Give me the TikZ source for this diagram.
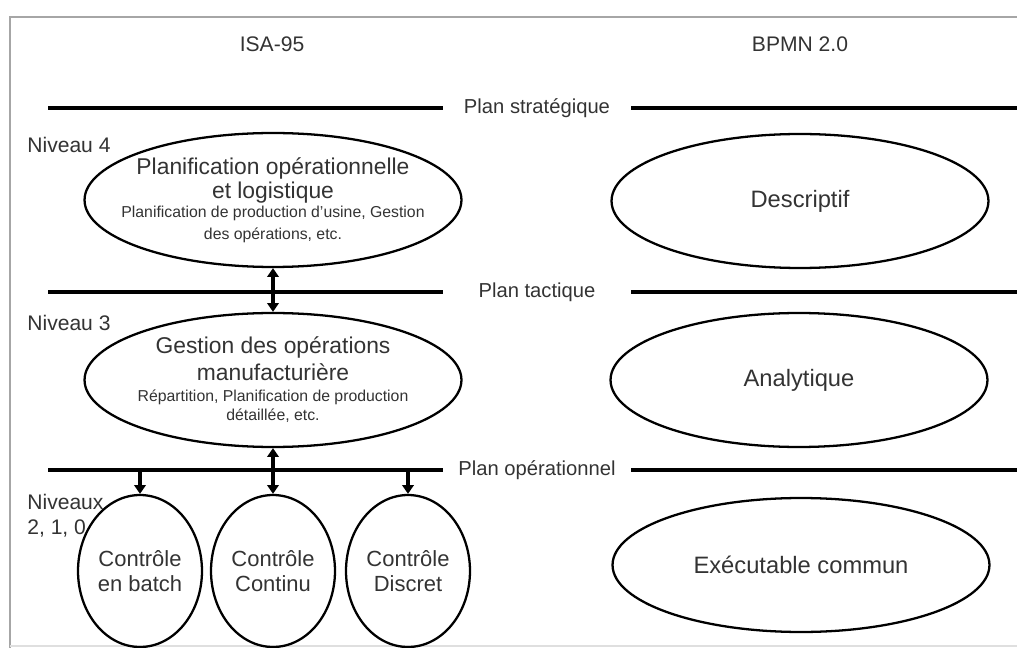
\documentclass[tikz,border=0pt]{standalone}
\usepackage{fontspec}
\setmainfont{Liberation Sans}
\usepackage{tikz}
\usetikzlibrary{
arrows.meta,
calc,
shapes,
}

\newcommand{\grand}{\fontsize{13}{13.6}\selectfont}
\newcommand{\petit}{\fontsize{9}{13.6}\selectfont}
\newcommand{\serre}{\lineskiplimit=-50pt\relax\lineskip=0pt\relax}

\begin{document}
\begin{tikzpicture}[x=0.02cm, y=-0.02cm, every node/.style={text=black!80},
		plan/.style={line width=2.2pt},
		plantxt/.style={font=\fontsize{11.5}{14}\selectfont},
		niveau/.style={anchor=west, inner sep=0pt, align=left, font=\fontsize{12}{14.2}\selectfont},
		bulle/.style={ellipse, draw=black, line width=1.3pt, minimum width=7.54cm, minimum height=2.68cm, inner xsep=-16pt, inner ysep=-6pt, align=center, font=\fontsize{13.5}{13.6}\selectfont},
		petite/.style={ellipse, draw=black, line width=1.3pt, minimum width=2.48cm, minimum height=3.04cm, inner sep=0pt, align=center, font=\fontsize{12.5}{14.2}\selectfont},
		fleche/.style={line width=1.8pt, >={Triangle[length=5pt,width=6.5pt]}}]
			\useasboundingbox (0,0) rectangle (1017,648);
			\draw[gray!70, line width=1pt] (1017,17) -- (10,17) -- (10,648);
			\draw[gray!25, line width=0.8pt] (10,646) -- (1017,646);

			\coordinate(A) at (48,108);
			\coordinate(B) at (443,108);
			\coordinate(C) at (631,108);
			\coordinate(D) at (1017,108);
			\coordinate(E) at (48,292);
			\coordinate(F) at (443,292);
			\coordinate(G) at (631,292);
			\coordinate(H) at (1017,292);
			\coordinate(I) at (48,470);
			\coordinate(J) at (443,470);
			\coordinate(K) at (631,470);
			\coordinate(L) at (1017,470);
			\coordinate(M) at (140,470);
			\coordinate(N) at (408,470);

			\draw[plan] (A) -- (B) (C) -- (D);
			\draw[plan] (E) -- (F) (G) -- (H);
			\draw[plan] (I) -- (J) (K) -- (L);

			\node (isa) at (272,44) {\fontsize{12}{14}\selectfont ISA-95};
			\node (bpmn) at (800,44) {\fontsize{12}{14}\selectfont BPMN 2.0};

			\node[plantxt] (strat) at ($(B)!0.5!(C)$) {Plan stratégique};
			\node[plantxt] (tact) at ($(F)!0.5!(G)$) {Plan tactique};
			\node[plantxt] (oper) at ($(J)!0.5!(K)$) {Plan opérationnel};

			\node[niveau] (niv4) at (27,145) {Niveau 4};
			\node[niveau] (niv3) at (27,323) {Niveau 3};
			\node[niveau, anchor=north west] (niv210) at (27,494) {Niveaux\\2, 1, 0};

			\node[bulle] (planif) at (273,200) {\serre\grand Planification opérationnelle\\ \serre\grand et logistique\\[-2.8pt] \serre\petit Planification de production d'usine, Gestion\\[-1pt] \serre\petit des opérations, etc.};
			\node[bulle] (gestion) at (273,380) {\serre\grand Gestion des opérations\\[1.7pt] \serre\grand manufacturière\\[-1.6pt] \serre\petit Répartition, Planification de production\\[-2.8pt] \serre\petit détaillée, etc.};

			\node[petite] (batch) at (140,571) {Contrôle\\ en batch};
			\node[petite] (continu) at (273,571) {Contrôle\\ Continu};
			\node[petite] (discret) at (408,571) {Contrôle\\ Discret};

			\node[bulle] (descr) at (800,201) {Descriptif};
			\node[bulle] (analyt) at (799,380) {Analytique};
			\node[bulle] (exec) at (801,565) {Exécutable commun};

			\draw[fleche, <->] (planif.south) -- (gestion.north);
			\draw[fleche, <->] (gestion.south) -- (continu.north);
			\draw[fleche, ->] (M) -- (batch.north);
			\draw[fleche, ->] (N) -- (discret.north);
		\end{tikzpicture}
\end{document}
